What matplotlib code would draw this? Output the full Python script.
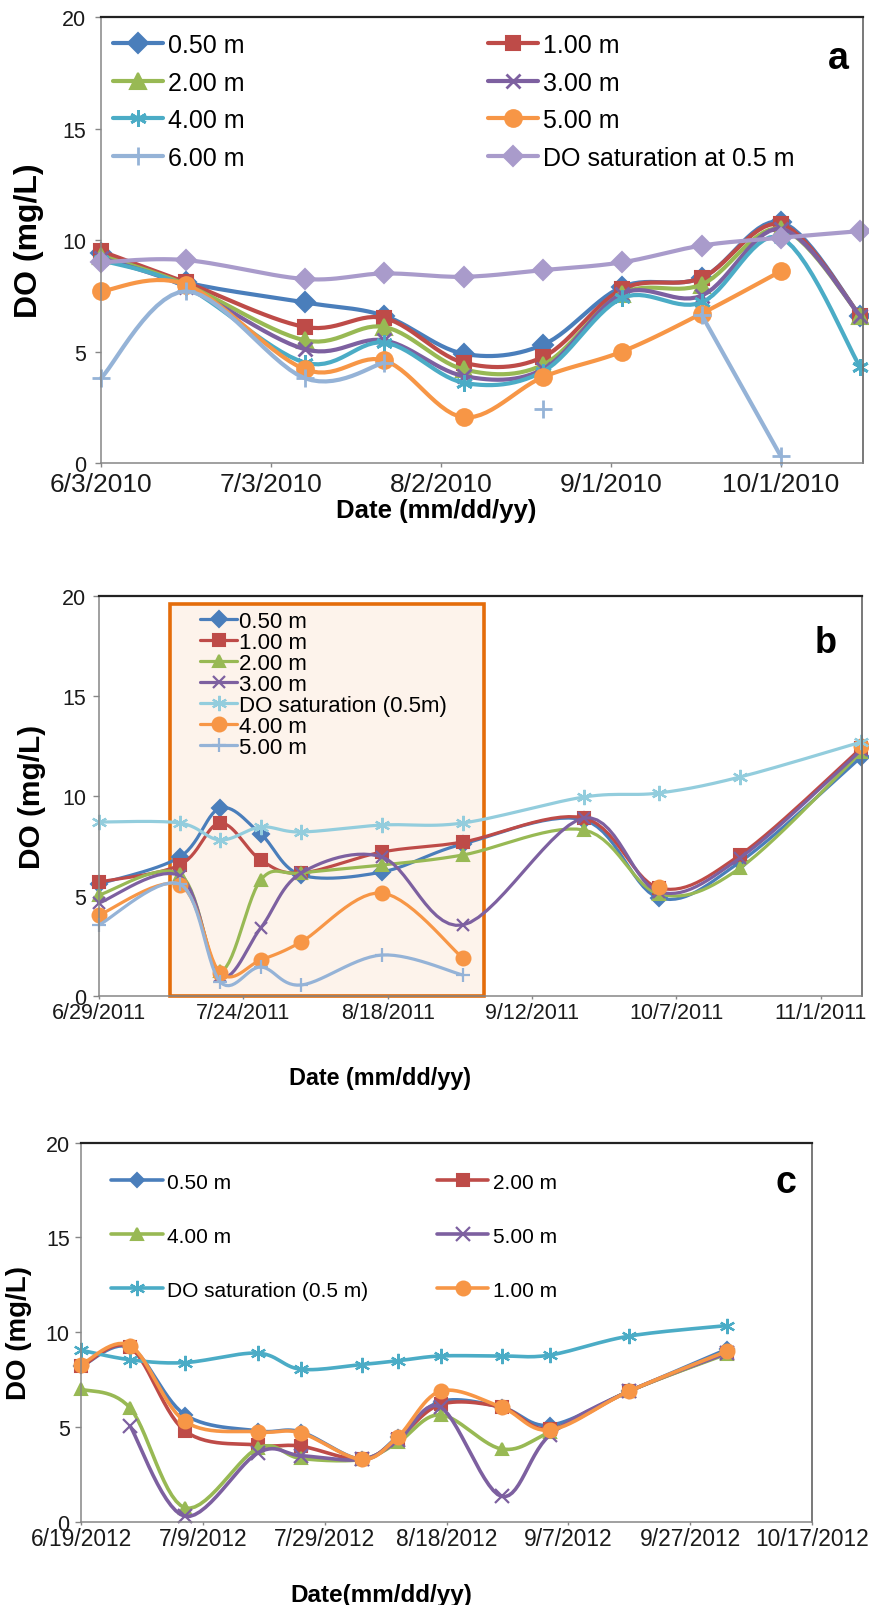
import numpy as np
import matplotlib
matplotlib.use("Agg")
import matplotlib.pyplot as plt
import matplotlib.dates as mdates
from matplotlib.patches import Rectangle

plt.rcParams['font.family'] = ['Liberation Sans', 'DejaVu Sans']

nan = np.nan

# ---------------- Panel a (2010) ----------------
a_dates = ['2010-06-03', '2010-06-18', '2010-07-09', '2010-07-23', '2010-08-06',
           '2010-08-20', '2010-09-03', '2010-09-17', '2010-10-01', '2010-10-15']
a_050 = [9.4, 8.1, 7.2, 6.6, 4.9, 5.3, 7.9, 8.3, 10.8, 6.6]
a_100 = [9.5, 8.1, 6.1, 6.5, 4.5, 4.75, 7.8, 8.3, 10.7, 6.6]
a_200 = [9.3, 8.0, 5.5, 6.1, 4.2, 4.4, 7.6, 8.0, 10.5, 6.6]
a_300 = [9.2, 7.9, 5.1, 5.5, 3.9, 4.2, 7.6, 7.5, 10.5, 6.6]
a_400 = [9.1, 7.9, 4.5, 5.4, 3.6, 4.1, 7.4, 7.2, 10.1, 4.3]
a_500 = [7.7, 8.0, 4.2, 4.6, 2.05, 3.85, 5.0, 6.7, 8.6, nan]
a_600 = [3.8, 7.7, 3.8, 4.5, nan, 2.4, nan, 6.65, 0.3, nan]
a_sat = [9.0, 9.1, 8.25, 8.5, 8.35, 8.65, 9.0, 9.75, 10.1, 10.4]
a_tick_dates = ['2010-06-03', '2010-07-03', '2010-08-02', '2010-09-01', '2010-10-01']
a_tick_labels = ['6/3/2010', '7/3/2010', '8/2/2010', '9/1/2010', '10/1/2010']
a_xlim = ['2010-06-03', '2010-10-15T12']

# ---------------- Panel b (2011) ----------------
b_dates = ['2011-06-29', '2011-07-13', '2011-07-20', '2011-07-27', '2011-08-03', '2011-08-17',
           '2011-08-31', '2011-09-21', '2011-10-04', '2011-10-18', '2011-11-08']
b_050 = [5.6, 6.95, 9.4, 8.1, 6.05, 6.2, 7.6, 8.8, 4.9, 6.7, 11.95]
b_100 = [5.7, 6.55, 8.65, 6.8, 6.15, 7.2, 7.7, 8.9, 5.4, 7.05, 12.4]
b_200 = [5.05, 6.1, 1.25, 5.8, 6.15, 6.55, 7.05, 8.3, 5.1, 6.4, 12.2]
b_300 = [4.65, 6.0, 1.0, 3.4, 6.15, 6.95, 3.55, 8.9, 5.2, 6.9, 12.3]
b_sat = [8.7, 8.65, 7.8, 8.45, 8.2, 8.55, 8.65, 9.95, 10.15, 10.95, 12.7]
b_400 = [4.05, 5.55, 1.15, 1.8, 2.7, 5.15, 1.9, nan, 5.45, nan, 12.5]
b_500 = [3.55, 5.6, 0.7, 1.45, 0.55, 2.05, 1.05, nan, nan, nan, nan]
b_tick_dates = ['2011-06-29', '2011-07-24', '2011-08-18', '2011-09-12', '2011-10-07', '2011-11-01']
b_tick_labels = ['6/29/2011', '7/24/2011', '8/18/2011', '9/12/2011', '10/7/2011', '11/1/2011']
b_xlim = ['2011-06-29', '2011-11-08T03']
b_box_dates = ['2011-07-11T06', '2011-09-03T18']
b_box_top = 19.6

# ---------------- Panel c (2012) ----------------
c_dates = ['2012-06-19', '2012-06-27', '2012-07-06', '2012-07-18', '2012-07-25', '2012-08-04',
           '2012-08-10', '2012-08-17', '2012-08-27', '2012-09-04', '2012-09-17', '2012-10-03']
c_050 = [8.2, 9.2, 5.65, 4.8, 4.75, 3.3, 4.5, 6.35, 6.05, 5.1, 6.9, 9.1]
c_200 = [8.2, 9.2, 4.8, 4.05, 4.0, 3.3, 4.4, 6.2, 6.05, 4.9, 6.9, 8.9]
c_400 = [7.0, 6.0, 0.75, 3.9, 3.35, 3.3, 4.2, 5.65, 3.85, 4.75, 6.9, 8.85]
c_500 = [nan, 5.05, 0.3, 3.65, 3.5, 3.3, 4.3, 6.05, 1.35, 4.6, 6.9, 8.9]
c_sat = [9.05, 8.55, 8.4, 8.9, 8.05, 8.3, 8.5, 8.75, 8.75, 8.8, 9.8, 10.35]
c_100 = [8.3, 9.3, 5.3, 4.75, 4.7, 3.3, 4.5, 6.9, 6.05, 4.85, 6.9, 9.0]
c_tick_dates = ['2012-06-19', '2012-07-09', '2012-07-29', '2012-08-18', '2012-09-07',
                '2012-09-27', '2012-10-17']
c_tick_labels = ['6/19/2012', '7/9/2012', '7/29/2012', '8/18/2012', '9/7/2012',
                 '9/27/2012', '10/17/2012']
c_xlim = ['2012-06-19', '2012-10-17']

y_ticks = [0, 5, 10, 15, 20]

BLUE, RED, GREEN, PURPLE = '#4A7EBB', '#BE4B48', '#98B954', '#7D60A0'
TEAL, ORANGE, LBLUE, LAV, CYAN = '#4BACC6', '#F79646', '#95B3D7', '#A99BCB', '#93CDDD'
STAR = (6, 2, 0)


def dnum(lst):
    return mdates.date2num(np.array(lst, dtype='datetime64[m]'))


def smooth(xv, yv, n=14):
    """Excel-like smoothed line through the data points (Bezier / Catmull-Rom)."""
    xv = np.asarray(xv, float)
    yv = np.asarray(yv, float)
    xs, ys, marks = [], [], []
    valid = ~np.isnan(yv)
    i = 0
    N = len(yv)
    while i < N:
        if not valid[i]:
            i += 1
            continue
        j = i
        while j + 1 < N and valid[j + 1]:
            j += 1
        P = np.column_stack([xv[i:j + 1], yv[i:j + 1]])
        if len(P) == 1:
            marks.append(len(xs))
            xs.append(P[0, 0]); ys.append(P[0, 1])
        else:
            ext = np.vstack([P[0], P, P[-1]])
            t = np.linspace(0, 1, n, endpoint=False)[:, None]
            for k in range(len(P) - 1):
                p0, p1, p2, p3 = ext[k], ext[k + 1], ext[k + 2], ext[k + 3]
                c1 = p1 + (p2 - p0) / 6.0
                c2 = p2 - (p3 - p1) / 6.0
                B = ((1 - t) ** 3) * p1 + 3 * ((1 - t) ** 2) * t * c1 + \
                    3 * (1 - t) * t ** 2 * c2 + t ** 3 * p2
                marks.append(len(xs))
                xs.extend(B[:, 0]); ys.extend(B[:, 1])
            marks.append(len(xs))
            xs.append(P[-1, 0]); ys.append(P[-1, 1])
        xs.append(nan); ys.append(nan)
        i = j + 1
    return np.array(xs), np.array(ys), marks


def series(ax, dates, vals, label, color, marker, ms, lw, mew=1.5, z=2):
    x = dnum(dates)
    xs, ys, mk = smooth(x, vals)
    line, = ax.plot(xs, ys, color=color, lw=lw, marker=marker, ms=ms, mew=mew,
                    mec=color, mfc=color, markevery=mk, label=label,
                    clip_on=False, zorder=z, solid_capstyle='round')
    return line


def style(ax, xlim, tdates, tlabels, xfs, yfs, ypad, xlen, xpad):
    ax.set_ylim(0, 20)
    ax.set_xlim(dnum(xlim))
    ax.set_yticks(y_ticks)
    ax.set_xticks(dnum(tdates))
    ax.set_xticklabels(tlabels)
    ax.tick_params(axis='y', labelsize=yfs, length=4, width=1, color='#868686',
                   pad=ypad, labelcolor='#1a1a1a')
    ax.tick_params(axis='x', labelsize=xfs, length=xlen, width=1, color='#868686',
                   pad=xpad, labelcolor='#1a1a1a')
    ax.spines['left'].set_color('#868686')
    ax.spines['bottom'].set_color('#868686')
    ax.spines['top'].set_color('#222222')
    ax.spines['top'].set_linewidth(1.6)
    ax.spines['right'].set_color('#6e6e6e')
    ax.spines['right'].set_linewidth(1.3)
    for s in ('left', 'bottom'):
        ax.spines[s].set_linewidth(1.1)


fig = plt.figure(figsize=(8.7, 16.06), dpi=100)

# ---------------- Panel a ----------------
ax = fig.add_axes([101 / 870, 0.71108, 762 / 870, 0.27771])
style(ax, a_xlim, a_tick_dates, a_tick_labels, 19, 15.5, 6.5, 3, 3.5)
h050 = series(ax, a_dates, a_050, '0.50 m', BLUE, 'D', 10, 3.0)
h100 = series(ax, a_dates, a_100, '1.00 m', RED, 's', 10.5, 3.0)
h200 = series(ax, a_dates, a_200, '2.00 m', GREEN, '^', 11, 3.0)
h300 = series(ax, a_dates, a_300, '3.00 m', PURPLE, 'x', 10, 3.0, mew=2)
h400 = series(ax, a_dates, a_400, '4.00 m', TEAL, STAR, 12, 3.0, mew=2)
h500 = series(ax, a_dates, a_500, '5.00 m', ORANGE, 'o', 12, 3.0)
h600 = series(ax, a_dates, a_600, '6.00 m', LBLUE, '+', 13, 3.0, mew=2)
hsat = series(ax, a_dates, a_sat, 'DO saturation at 0.5 m', LAV, 'D', 10, 3.0)
hs = [h050, h200, h400, h600, h100, h300, h500, hsat]
ax.legend(hs, [h.get_label() for h in hs], ncol=2, frameon=False, fontsize=18,
          loc='upper left', bbox_to_anchor=(0.0157, 0.964), borderaxespad=0, borderpad=0,
          handlelength=2.0, handletextpad=0.2, columnspacing=9.74, labelspacing=0.54)
ax.text(0.968, 0.909, 'a', transform=ax.transAxes, fontsize=27, fontweight='bold',
        ha='center', va='center')
ax.set_ylabel('DO (mg/L)', fontsize=23, fontweight='bold')
ax.yaxis.set_label_coords(-0.094, 0.5)
ax.yaxis.label.set_va('center')
ax.set_xlabel('Date (mm/dd/yy)', fontsize=18.5, fontweight='bold')
ax.xaxis.set_label_coords(0.44, -0.106)
ax.xaxis.label.set_va('center')

# ---------------- Panel b ----------------
ax = fig.add_axes([99 / 870, 0.37920, 763 / 870, 0.24907])
style(ax, b_xlim, b_tick_dates, b_tick_labels, 15.5, 15.5, 5, 2, 2)
bx = dnum(b_box_dates)
ax.add_patch(Rectangle((bx[0], 0), bx[1] - bx[0], b_box_top, facecolor='#FDF3EB',
                       edgecolor='#E46C0A', lw=2.6, zorder=0.5, clip_on=False))
g050 = series(ax, b_dates, b_050, '0.50 m', BLUE, 'D', 8, 2.3)
g100 = series(ax, b_dates, b_100, '1.00 m', RED, 's', 9, 2.3)
g200 = series(ax, b_dates, b_200, '2.00 m', GREEN, '^', 9, 2.3)
g300 = series(ax, b_dates, b_300, '3.00 m', PURPLE, 'x', 9, 2.3, mew=1.6)
gsat = series(ax, b_dates, b_sat, 'DO saturation (0.5m)', CYAN, STAR, 11, 2.3, mew=1.6, z=2.1)
g400 = series(ax, b_dates, b_400, '4.00 m', ORANGE, 'o', 10, 2.3)
g500 = series(ax, b_dates, b_500, '5.00 m', LBLUE, '+', 10, 2.3, mew=1.6)
gs = [g050, g100, g200, g300, gsat, g400, g500]
ax.legend(gs, [g.get_label() for g in gs], ncol=1, frameon=False, fontsize=16,
          loc='upper left', bbox_to_anchor=(0.132, 0.962), borderaxespad=0, borderpad=0,
          handlelength=1.7, handletextpad=0.09, labelspacing=0.0)
ax.text(0.953, 0.884, 'b', transform=ax.transAxes, fontsize=26, fontweight='bold',
        ha='center', va='center')
ax.set_ylabel('DO (mg/L)', fontsize=21.5, fontweight='bold')
ax.yaxis.set_label_coords(-0.088, 0.5)
ax.yaxis.label.set_va('center')
ax.set_xlabel('Date (mm/dd/yy)', fontsize=16.8, fontweight='bold')
ax.xaxis.set_label_coords(0.368, -0.2025)
ax.xaxis.label.set_va('center')

# ---------------- Panel c ----------------
ax = fig.add_axes([81.5 / 870, 0.05168, 730.5 / 870, 0.23630])
style(ax, c_xlim, c_tick_dates, c_tick_labels, 16.4, 15.5, 4.5, 2, 1.5)
k050 = series(ax, c_dates, c_050, '0.50 m', BLUE, 'D', 7, 2.6)
k200 = series(ax, c_dates, c_200, '2.00 m', RED, 's', 9, 2.6)
k400 = series(ax, c_dates, c_400, '4.00 m', GREEN, '^', 9, 2.6)
k500 = series(ax, c_dates, c_500, '5.00 m', PURPLE, 'x', 10, 2.6, mew=1.6)
ksat = series(ax, c_dates, c_sat, 'DO saturation (0.5 m)', TEAL, STAR, 11, 2.6, mew=1.6)
k100 = series(ax, c_dates, c_100, '1.00 m', ORANGE, 'o', 10, 2.6)
ks = [k050, k400, ksat, k200, k500, k100]
ax.legend(ks, [k.get_label() for k in ks], ncol=2, frameon=False, fontsize=15,
          loc='upper left', bbox_to_anchor=(0.0404, 0.9207), borderaxespad=0, borderpad=0,
          handlelength=2.48, handletextpad=0.2, columnspacing=3.3, labelspacing=1.68)
ax.text(0.964, 0.897, 'c', transform=ax.transAxes, fontsize=27, fontweight='bold',
        ha='center', va='center')
ax.set_ylabel('DO (mg/L)', fontsize=20, fontweight='bold')
ax.yaxis.set_label_coords(-0.085, 0.5)
ax.yaxis.label.set_va('center')
ax.set_xlabel('Date(mm/dd/yy)', fontsize=17.5, fontweight='bold')
ax.xaxis.set_label_coords(0.411, -0.192)
ax.xaxis.label.set_va('center')

fig.savefig('out.png', dpi=100)
